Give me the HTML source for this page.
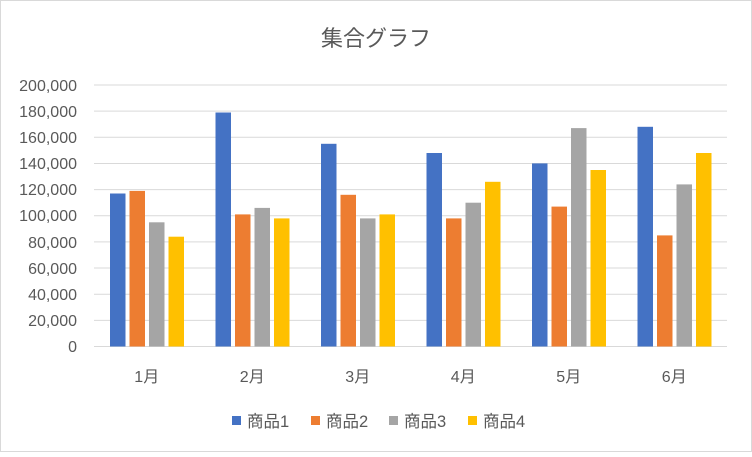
<!DOCTYPE html>
<html><head><meta charset="utf-8"><style>
html,body{margin:0;padding:0;background:#fff}
svg text{font-family:"Liberation Sans","Noto Sans CJK JP",sans-serif;fill:#595959}
</style></head><body>
<svg width="752" height="452" xmlns="http://www.w3.org/2000/svg">
<rect x="0.5" y="0.5" width="751" height="451" fill="#fff" stroke="#d9d9d9"/>
<text x="376" y="46" font-size="22" text-anchor="middle">集合グラフ</text>
<g stroke="#d9d9d9" stroke-width="1">
<line x1="94" x2="727" y1="85" y2="85"/><line x1="94" x2="727" y1="111.15" y2="111.15"/>
<line x1="94" x2="727" y1="137.3" y2="137.3"/><line x1="94" x2="727" y1="163.45" y2="163.45"/>
<line x1="94" x2="727" y1="189.6" y2="189.6"/><line x1="94" x2="727" y1="215.75" y2="215.75"/>
<line x1="94" x2="727" y1="241.9" y2="241.9"/><line x1="94" x2="727" y1="268.05" y2="268.05"/>
<line x1="94" x2="727" y1="294.2" y2="294.2"/><line x1="94" x2="727" y1="320.35" y2="320.35"/>
<line x1="94" x2="727" y1="346.5" y2="346.5"/>
</g>
<g font-size="16" text-anchor="end">
<text x="77" y="91">200,000</text><text x="77" y="117">180,000</text><text x="77" y="143">160,000</text>
<text x="77" y="169">140,000</text><text x="77" y="195">120,000</text><text x="77" y="221">100,000</text>
<text x="77" y="248">80,000</text><text x="77" y="274">60,000</text><text x="77" y="300">40,000</text>
<text x="77" y="326">20,000</text><text x="77" y="352">0</text>
</g>
<g>
<g fill="#4472c4">
<rect x="110" y="193.5" width="15.5" height="153"/><rect x="215.5" y="112.5" width="15.5" height="234"/>
<rect x="321" y="143.8" width="15.5" height="202.7"/><rect x="426.5" y="153" width="15.5" height="193.5"/>
<rect x="532" y="163.4" width="15.5" height="183.1"/><rect x="637.5" y="126.8" width="15.5" height="219.7"/>
</g>
<g fill="#ed7d31">
<rect x="129.5" y="190.9" width="15.5" height="155.6"/><rect x="235" y="214.4" width="15.5" height="132.1"/>
<rect x="340.5" y="194.8" width="15.5" height="151.7"/><rect x="446" y="218.4" width="15.5" height="128.1"/>
<rect x="551.5" y="206.6" width="15.5" height="139.9"/><rect x="657" y="235.4" width="15.5" height="111.1"/>
</g>
<g fill="#a5a5a5">
<rect x="149" y="222.3" width="15.5" height="124.2"/><rect x="254.5" y="207.9" width="15.5" height="138.6"/>
<rect x="360" y="218.4" width="15.5" height="128.1"/><rect x="465.5" y="202.7" width="15.5" height="143.8"/>
<rect x="571" y="128.1" width="15.5" height="218.4"/><rect x="676.5" y="184.4" width="15.5" height="162.1"/>
</g>
<g fill="#ffc000">
<rect x="168.5" y="236.7" width="15.5" height="109.8"/><rect x="274" y="218.4" width="15.5" height="128.1"/>
<rect x="379.5" y="214.4" width="15.5" height="132.1"/><rect x="485" y="181.8" width="15.5" height="164.7"/>
<rect x="590.5" y="170" width="15.5" height="176.5"/><rect x="696" y="153" width="15.5" height="193.5"/>
</g>
</g>
<g font-size="16" text-anchor="middle">
<text x="146.75" y="382">1月</text><text x="252.25" y="382">2月</text><text x="357.75" y="382">3月</text>
<text x="463.25" y="382">4月</text><text x="568.75" y="382">5月</text><text x="674.25" y="382">6月</text>
</g>
<g font-size="16.5">
<rect x="232" y="416" width="9" height="9" fill="#4472c4"/><text x="247" y="427">商品1</text>
<rect x="311" y="416" width="9" height="9" fill="#ed7d31"/><text x="326" y="427">商品2</text>
<rect x="389" y="416" width="9" height="9" fill="#a5a5a5"/><text x="404" y="427">商品3</text>
<rect x="468" y="416" width="9" height="9" fill="#ffc000"/><text x="483" y="427">商品4</text>
</g>
</svg>
</body></html>
